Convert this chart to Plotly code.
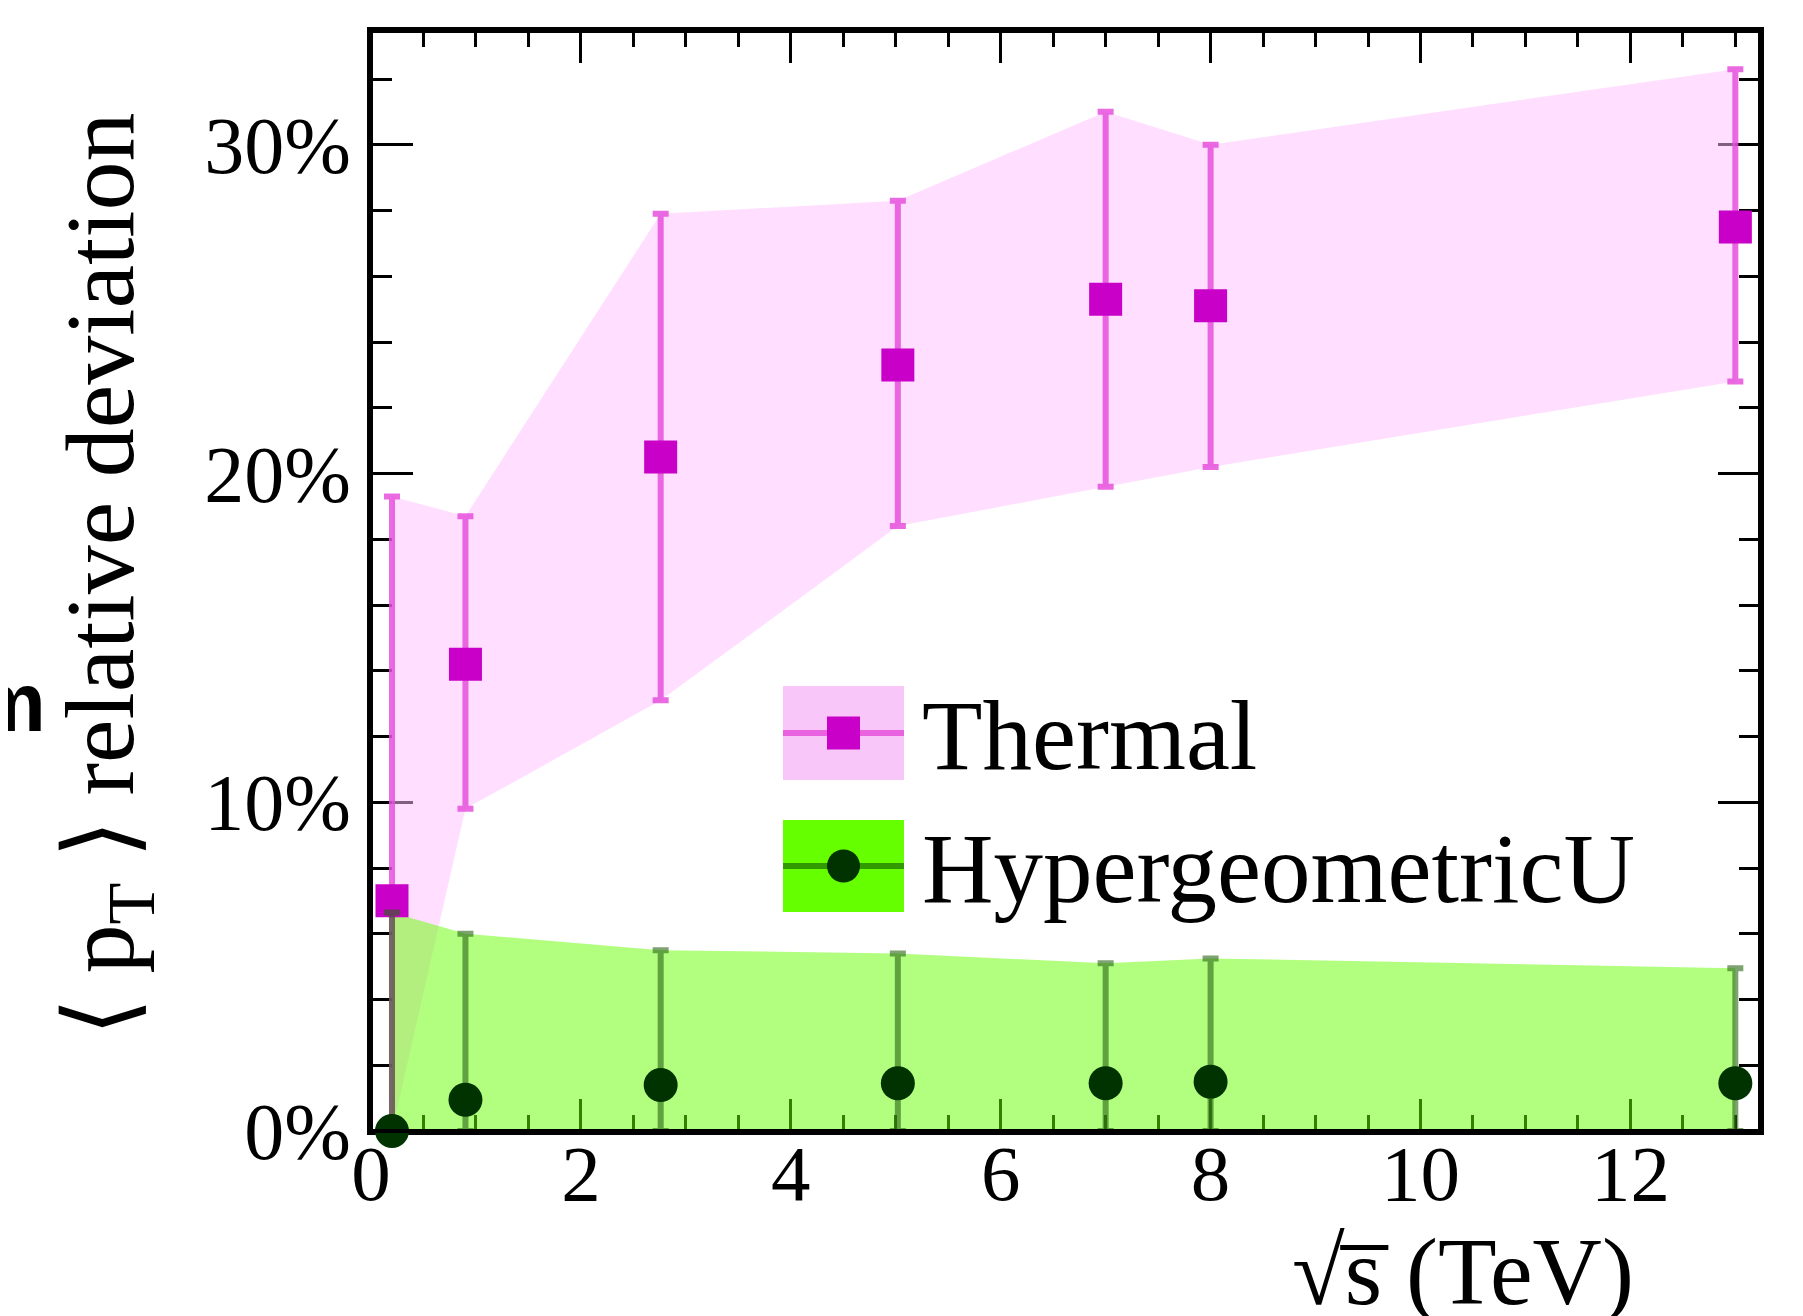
import plotly.graph_objects as go

# ---------------- data ----------------
energy_tev = [0.2, 0.9, 2.76, 5.02, 7.0, 8.0, 13.0]

thermal_val = [7.0, 14.2, 20.5, 23.3, 25.3, 25.1, 27.5]
thermal_hi = [19.3, 18.7, 27.9, 28.3, 31.0, 30.0, 32.3]
thermal_lo = [0.0, 9.8, 13.1, 18.4, 19.6, 20.2, 22.8]

hyper_val = [0.0, 0.95, 1.4, 1.45, 1.45, 1.5, 1.45]
hyper_hi = [6.65, 6.0, 5.5, 5.4, 5.1, 5.25, 4.95]
hyper_lo = [0.0, 0.0, 0.0, 0.0, 0.0, 0.0, 0.0]

series_names = ["Thermal", "HypergeometricU"]

x_tickvals = [0, 2, 4, 6, 8, 10, 12]
x_ticktext = ["0", "2", "4", "6", "8", "10", "12"]
y_tickvals = [0, 10, 20, 30]
y_ticktext = ["0%", "10%", "20%", "30%"]

x_title = "√s\u0305 (TeV)"
y_title = "⟨ p<sub>T</sub> ⟩ relative deviation"

# ---------------- styling ----------------
W, H = 1803, 1316
OFF = 8  # page body margin
L, R, T, B = 371 - OFF, 1760 - OFF, 31 - OFF, 1131 - OFF
PW, PH = R - L, B - T
SERIF = "Liberation Serif, Times New Roman, serif"

pink_band = "rgba(255,190,255,0.5)"
pink_bar = "rgba(230,80,220,0.85)"
pink_marker = "#c800c8"
pink_legend_box = "#f9c6f9"
green_band = "rgba(102,255,0,0.5)"
green_bar = "rgba(40,100,20,0.6)"
green_marker = "#003300"
green_legend_box = "#66ff00"
green_legend_line = "#339900"


def px(xp):
    """page pixel x -> paper coordinate"""
    return (xp - OFF - L) / PW


def py(yp):
    """page pixel y -> paper coordinate"""
    return (B - (yp - OFF)) / PH


fig = go.Figure()

# bands
fig.add_trace(go.Scatter(
    x=energy_tev + energy_tev[::-1],
    y=thermal_hi + thermal_lo[::-1],
    fill="toself", fillcolor=pink_band, mode="lines",
    line=dict(width=0), hoverinfo="skip", showlegend=False))
fig.add_trace(go.Scatter(
    x=energy_tev + energy_tev[::-1],
    y=hyper_hi + hyper_lo[::-1],
    fill="toself", fillcolor=green_band, mode="lines",
    line=dict(width=0), hoverinfo="skip", showlegend=False))

# points with error bars
fig.add_trace(go.Scatter(
    x=energy_tev, y=thermal_val, mode="markers", name=series_names[0],
    marker=dict(symbol="square", size=33, color=pink_marker),
    error_y=dict(type="data", symmetric=False,
                 array=[h - v for h, v in zip(thermal_hi, thermal_val)],
                 arrayminus=[v - l for v, l in zip(thermal_val, thermal_lo)],
                 color=pink_bar, thickness=6, width=8),
    cliponaxis=False, showlegend=False))
fig.add_trace(go.Scatter(
    x=energy_tev, y=hyper_val, mode="markers", name=series_names[1],
    marker=dict(symbol="circle", size=34, color=green_marker),
    error_y=dict(type="data", symmetric=False,
                 array=[h - v for h, v in zip(hyper_hi, hyper_val)],
                 arrayminus=[v - l for v, l in zip(hyper_val, hyper_lo)],
                 color=green_bar, thickness=6, width=8),
    cliponaxis=False, showlegend=False))

axis_common = dict(
    showline=True, linewidth=4, linecolor="black", mirror="ticks",
    ticks="inside", tickwidth=3, tickcolor="black",
    showgrid=False, zeroline=False, layer="below traces",
    tickmode="array",
)

fig.update_xaxes(
    **axis_common, range=[0, 13.235], tickvals=x_tickvals, ticktext=x_ticktext,
    ticklen=32, ticklabelstandoff=-30,
    tickfont=dict(family=SERIF, size=79, color="black"),
    minor=dict(tickmode="linear", tick0=0, dtick=0.5, ticks="inside",
               ticklen=16, tickwidth=3, tickcolor="black", showgrid=False))
fig.update_yaxes(
    **axis_common, range=[0, 33.46], tickvals=y_tickvals, ticktext=y_ticktext,
    ticklen=42,
    tickfont=dict(family=SERIF, size=80, color="black"),
    minor=dict(tickmode="linear", tick0=0, dtick=2, ticks="inside",
               ticklen=21, tickwidth=3, tickcolor="black", showgrid=False))

shapes = [
    dict(type="rect", xref="paper", yref="paper", x0=0, x1=1, y0=0, y1=1,
         line=dict(color="black", width=4), fillcolor="rgba(0,0,0,0)",
         layer="above"),
]

# custom legend (boxes with line + marker)
legend_rows = [
    (series_names[0], pink_legend_box, pink_bar, pink_marker, "square", 686, 780),
    (series_names[1], green_legend_box, green_legend_line, green_marker, "circle", 820, 912),
]
annotations = []
for name, box, linec, mk, sym, y0p, y1p in legend_rows:
    x0p, x1p = 783, 904
    yc = (y0p + y1p) / 2
    shapes.append(dict(type="rect", xref="paper", yref="paper",
                       x0=px(x0p), x1=px(x1p), y0=py(y1p), y1=py(y0p),
                       line=dict(width=0), fillcolor=box, layer="above"))
    shapes.append(dict(type="line", xref="paper", yref="paper",
                       x0=px(x0p), x1=px(x1p), y0=py(yc), y1=py(yc),
                       line=dict(color=linec, width=6), layer="above"))
    shapes.append(dict(type="rect" if sym == "square" else "circle",
                       xref="paper", yref="paper",
                       x0=px(827), x1=px(860), y0=py(yc + 16.5), y1=py(yc - 16.5),
                       line=dict(width=0), fillcolor=mk, layer="above"))
    annotations.append(dict(
        text=name, xref="paper", yref="paper", x=px(920), y=py(yc + 2),
        xanchor="left", yanchor="middle", showarrow=False,
        font=dict(family=SERIF, size=99, color="black")))

# axis titles
annotations.append(dict(
    text=y_title, xref="paper", yref="paper", x=px(107), y=py(575),
    xanchor="center", yanchor="middle", textangle=-90, showarrow=False,
    font=dict(family=SERIF, size=98, color="black")))
annotations.append(dict(
    text=x_title, xref="paper", yref="paper", x=px(1463), y=py(1216),
    xanchor="center", yanchor="top", showarrow=False,
    font=dict(family=SERIF, size=96, color="black")))
# clipped fragment at the left edge
annotations.append(dict(
    text="<b>m</b>", xref="paper", yref="paper", x=px(48), y=py(703),
    xanchor="right", yanchor="middle", showarrow=False,
    font=dict(family="Liberation Sans, Arial, sans-serif", size=83, color="black")))

fig.update_layout(
    width=W, height=H,
    margin=dict(l=L, r=W - R, t=T, b=H - B, pad=0),
    paper_bgcolor="white", plot_bgcolor="white",
    showlegend=False, shapes=shapes, annotations=annotations,
)

fig.write_html("out.html")
